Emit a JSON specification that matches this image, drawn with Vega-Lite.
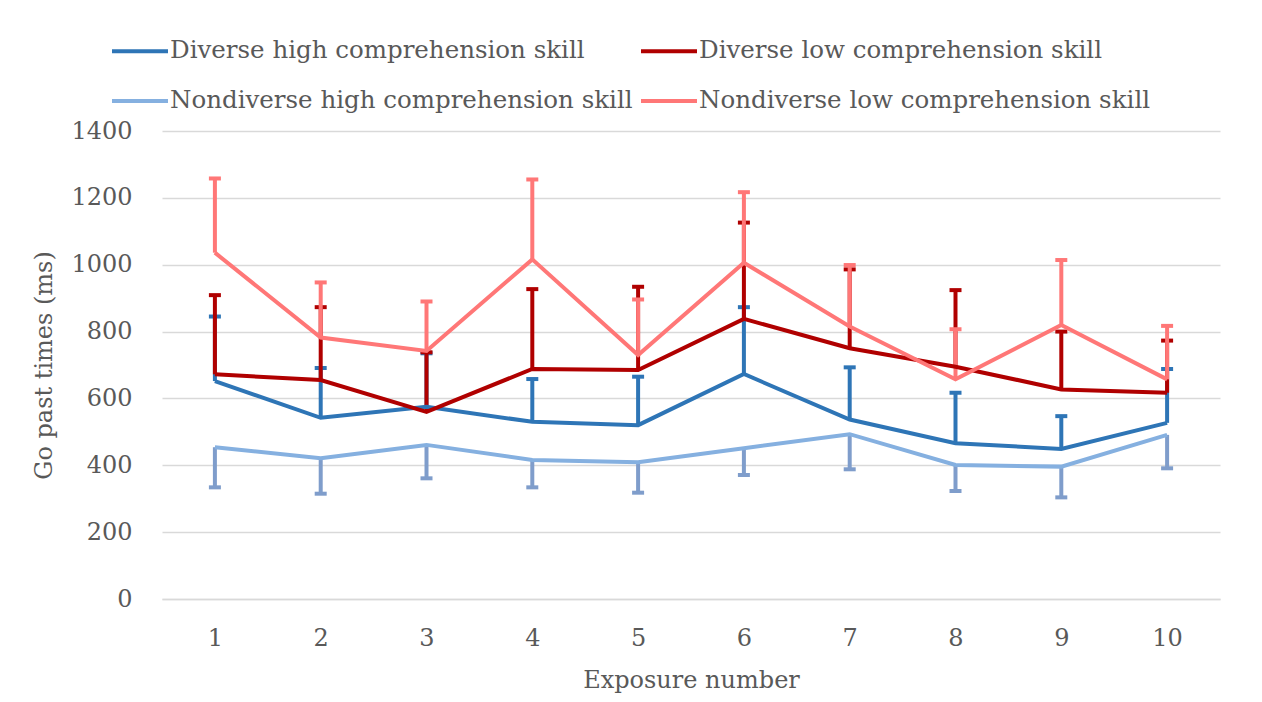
{
  "$schema": "https://vega.github.io/schema/vega-lite/v6.json",
  "width": 1058,
  "height": 468,
  "autosize": "none",
  "padding": {"left": 162, "top": 131, "right": 42, "bottom": 103},
  "background": "white",
  "config": {
    "font": "DejaVu Serif",
    "view": {"stroke": null},
    "axis": {"labelFont": "DejaVu Serif", "titleFont": "DejaVu Serif", "labelColor": "#595959", "titleColor": "#595959", "labelFontSize": 24, "titleFontSize": 24, "titleFontWeight": "normal"},
    "legend": {"labelFont": "DejaVu Serif", "labelFontSize": 24.5, "labelColor": "#595959"}
  },
  "data": {
    "values": [
      {"x": 1, "series": "Diverse high comprehension skill", "value": 652, "err": 845},
      {"x": 2, "series": "Diverse high comprehension skill", "value": 542, "err": 691},
      {"x": 3, "series": "Diverse high comprehension skill", "value": 575, "err": 735},
      {"x": 4, "series": "Diverse high comprehension skill", "value": 530, "err": 658},
      {"x": 5, "series": "Diverse high comprehension skill", "value": 520, "err": 665},
      {"x": 6, "series": "Diverse high comprehension skill", "value": 673, "err": 873},
      {"x": 7, "series": "Diverse high comprehension skill", "value": 537, "err": 693},
      {"x": 8, "series": "Diverse high comprehension skill", "value": 466, "err": 617},
      {"x": 9, "series": "Diverse high comprehension skill", "value": 449, "err": 547},
      {"x": 10, "series": "Diverse high comprehension skill", "value": 527, "err": 688},
      {"x": 1, "series": "Diverse low comprehension skill", "value": 672, "err": 909},
      {"x": 2, "series": "Diverse low comprehension skill", "value": 655, "err": 873},
      {"x": 3, "series": "Diverse low comprehension skill", "value": 560, "err": 738},
      {"x": 4, "series": "Diverse low comprehension skill", "value": 688, "err": 927},
      {"x": 5, "series": "Diverse low comprehension skill", "value": 685, "err": 934},
      {"x": 6, "series": "Diverse low comprehension skill", "value": 838, "err": 1126},
      {"x": 7, "series": "Diverse low comprehension skill", "value": 750, "err": 986},
      {"x": 8, "series": "Diverse low comprehension skill", "value": 695, "err": 924},
      {"x": 9, "series": "Diverse low comprehension skill", "value": 627, "err": 800},
      {"x": 10, "series": "Diverse low comprehension skill", "value": 617, "err": 773},
      {"x": 1, "series": "Nondiverse high comprehension skill", "value": 454, "err": 334},
      {"x": 2, "series": "Nondiverse high comprehension skill", "value": 421, "err": 315},
      {"x": 3, "series": "Nondiverse high comprehension skill", "value": 461, "err": 361},
      {"x": 4, "series": "Nondiverse high comprehension skill", "value": 416, "err": 334},
      {"x": 5, "series": "Nondiverse high comprehension skill", "value": 409, "err": 318},
      {"x": 6, "series": "Nondiverse high comprehension skill", "value": 451, "err": 371},
      {"x": 7, "series": "Nondiverse high comprehension skill", "value": 493, "err": 388},
      {"x": 8, "series": "Nondiverse high comprehension skill", "value": 401, "err": 323},
      {"x": 9, "series": "Nondiverse high comprehension skill", "value": 396, "err": 304},
      {"x": 10, "series": "Nondiverse high comprehension skill", "value": 491, "err": 391},
      {"x": 1, "series": "Nondiverse low comprehension skill", "value": 1036, "err": 1258},
      {"x": 2, "series": "Nondiverse low comprehension skill", "value": 782, "err": 947},
      {"x": 3, "series": "Nondiverse low comprehension skill", "value": 742, "err": 890},
      {"x": 4, "series": "Nondiverse low comprehension skill", "value": 1016, "err": 1255},
      {"x": 5, "series": "Nondiverse low comprehension skill", "value": 730, "err": 896},
      {"x": 6, "series": "Nondiverse low comprehension skill", "value": 1006, "err": 1217},
      {"x": 7, "series": "Nondiverse low comprehension skill", "value": 815, "err": 999},
      {"x": 8, "series": "Nondiverse low comprehension skill", "value": 657, "err": 807},
      {"x": 9, "series": "Nondiverse low comprehension skill", "value": 820, "err": 1014},
      {"x": 10, "series": "Nondiverse low comprehension skill", "value": 657, "err": 817}
    ]
  },
  "encoding": {
    "x": {
      "field": "x", "type": "ordinal",
      "scale": {"type": "point", "padding": 0.5},
      "axis": {"title": "Exposure number", "labelAngle": 0, "ticks": false, "labelPadding": 27, "titlePadding": 18, "domainColor": "#D9D9D9", "domainWidth": 1.5, "grid": false}
    },
    "y": {
      "field": "value", "type": "quantitative",
      "scale": {"domain": [0, 1400], "nice": false, "zero": true},
      "axis": {"title": "Go past times (ms)", "format": "d", "values": [0, 200, 400, 600, 800, 1000, 1200, 1400], "ticks": false, "domain": false, "gridColor": "#D9D9D9", "gridWidth": 1.5, "labelPadding": 30, "titlePadding": 14}
    }
  },
  "layer": [
    {"transform": [{"filter": "datum.series === 'Diverse high comprehension skill'"}], "mark": {"type": "rule", "color": "#2E75B6", "strokeWidth": 4}, "encoding": {"y2": {"field": "err"}}},
    {"transform": [{"filter": "datum.series === 'Diverse high comprehension skill'"}], "mark": {"type": "tick", "color": "#2E75B6", "size": 12, "thickness": 4, "opacity": 1}, "encoding": {"y": {"field": "err", "type": "quantitative"}}},
    {"transform": [{"filter": "datum.series === 'Diverse low comprehension skill'"}], "mark": {"type": "rule", "color": "#B00000", "strokeWidth": 4}, "encoding": {"y2": {"field": "err"}}},
    {"transform": [{"filter": "datum.series === 'Diverse low comprehension skill'"}], "mark": {"type": "tick", "color": "#B00000", "size": 12, "thickness": 4, "opacity": 1}, "encoding": {"y": {"field": "err", "type": "quantitative"}}},
    {"transform": [{"filter": "datum.series === 'Nondiverse high comprehension skill'"}], "mark": {"type": "rule", "color": "#7F9DCB", "strokeWidth": 4}, "encoding": {"y2": {"field": "err"}}},
    {"transform": [{"filter": "datum.series === 'Nondiverse high comprehension skill'"}], "mark": {"type": "tick", "color": "#7F9DCB", "size": 12, "thickness": 4, "opacity": 1}, "encoding": {"y": {"field": "err", "type": "quantitative"}}},
    {"transform": [{"filter": "datum.series === 'Nondiverse low comprehension skill'"}], "mark": {"type": "rule", "color": "#FF7777", "strokeWidth": 4}, "encoding": {"y2": {"field": "err"}}},
    {"transform": [{"filter": "datum.series === 'Nondiverse low comprehension skill'"}], "mark": {"type": "tick", "color": "#FF7777", "size": 12, "thickness": 4, "opacity": 1}, "encoding": {"y": {"field": "err", "type": "quantitative"}}},
    {
      "mark": {"type": "line", "strokeWidth": 4},
      "encoding": {
        "color": {
          "field": "series", "type": "nominal",
          "scale": {
            "domain": ["Diverse high comprehension skill", "Diverse low comprehension skill", "Nondiverse high comprehension skill", "Nondiverse low comprehension skill"],
            "range": ["#2E75B6", "#B00000", "#85B0E0", "#FF7777"]
          },
          "legend": {
            "title": null, "orient": "none", "legendX": -52, "legendY": -110,
            "direction": "horizontal", "columns": 2, "columnPadding": 0, "rowPadding": 8,
            "symbolType": "stroke", "symbolSize": 3136, "symbolStrokeWidth": 4,
            "labelOffset": 0, "padding": 0, "labelLimit": 600
          }
        }
      }
    }
  ]
}
